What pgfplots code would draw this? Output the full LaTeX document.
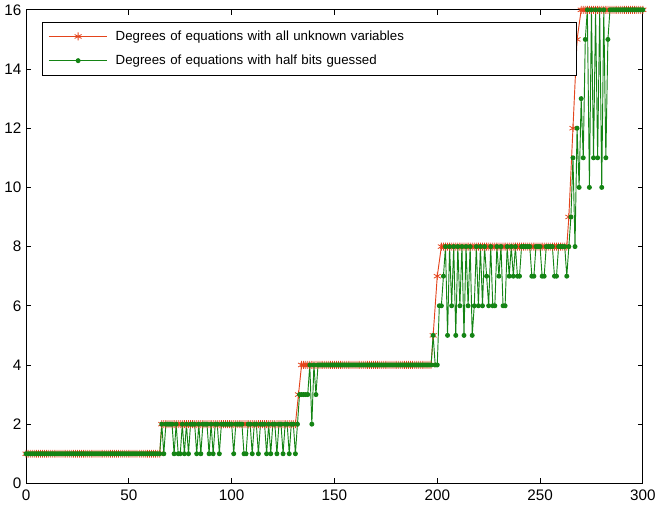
\documentclass[border=0pt]{standalone}
\usepackage{pgfplots}
\pgfplotsset{compat=1.18}
\usepackage{fontspec}
\setmainfont{Liberation Sans}
\definecolor{mred}{RGB}{228,68,28}
\definecolor{mgreen}{RGB}{20,132,20}
\begin{document}
\begin{tikzpicture}
\begin{axis}[
  scale only axis, width=465pt, height=357pt,
  xmin=0, xmax=300, ymin=0, ymax=16,
  xtick={0,50,...,300}, ytick={0,2,...,16},
  tick align=inside, major tick length=4pt,
  tick label style={font=\fontsize{11.5}{12}\selectfont, text=black},
  xticklabel style={yshift=-1.5pt},
  /pgf/number format/assume math mode=true,
  axis line style={line width=0.6pt},
  every tick/.style={black, line width=0.6pt},
  legend style={at={(0.026,0.975)}, anchor=north west, draw=black, line width=0.6pt,
    font=\fontsize{10}{11}\selectfont, inner xsep=4.5pt, inner ysep=4.5pt, row sep=5.5pt, column sep=4pt,
    nodes={text width=341pt, align=left}},
  legend cell align=left,
  legend image code/.code={\draw[mark repeat=2,mark phase=2,#1] plot coordinates {(0pt,0pt) (22pt,0pt) (44pt,0pt)};},
]
\addplot[color=mred, line width=0.7pt, mark=asterisk, mark size=3pt, mark options={line width=0.6pt}] coordinates {
(0,1)(1,1)(2,1)(3,1)(4,1)(5,1)(6,1)(7,1)(8,1)(9,1)(10,1)(11,1)(12,1)(13,1)(14,1)(15,1)(16,1)(17,1)(18,1)(19,1)
(20,1)(21,1)(22,1)(23,1)(24,1)(25,1)(26,1)(27,1)(28,1)(29,1)(30,1)(31,1)(32,1)(33,1)(34,1)(35,1)(36,1)(37,1)(38,1)(39,1)
(40,1)(41,1)(42,1)(43,1)(44,1)(45,1)(46,1)(47,1)(48,1)(49,1)(50,1)(51,1)(52,1)(53,1)(54,1)(55,1)(56,1)(57,1)(58,1)(59,1)
(60,1)(61,1)(62,1)(63,1)(64,1)(65,1)
(66,2)(67,2)(68,2)(69,2)(70,2)(71,2)(72,2)(73,2)(74,2)(75,2)(76,2)(77,2)(78,2)(79,2)
(80,2)(81,2)(82,2)(83,2)(84,2)(85,2)(86,2)(87,2)(88,2)(89,2)(90,2)(91,2)(92,2)(93,2)(94,2)(95,2)(96,2)(97,2)(98,2)(99,2)
(100,2)(101,2)(102,2)(103,2)(104,2)(105,2)(106,2)(107,2)(108,2)(109,2)(110,2)(111,2)(112,2)(113,2)(114,2)(115,2)(116,2)(117,2)(118,2)(119,2)
(120,2)(121,2)(122,2)(123,2)(124,2)(125,2)(126,2)(127,2)(128,2)(129,2)(130,2)(131,2)
(132.5,3)
(134,4)(135,4)(136,4)(137,4)(138,4)(139,4)
(140,4)(141,4)(142,4)(143,4)(144,4)(145,4)(146,4)(147,4)(148,4)(149,4)(150,4)(151,4)(152,4)(153,4)(154,4)(155,4)(156,4)(157,4)(158,4)(159,4)
(160,4)(161,4)(162,4)(163,4)(164,4)(165,4)(166,4)(167,4)(168,4)(169,4)(170,4)(171,4)(172,4)(173,4)(174,4)(175,4)(176,4)(177,4)(178,4)(179,4)
(180,4)(181,4)(182,4)(183,4)(184,4)(185,4)(186,4)(187,4)(188,4)(189,4)(190,4)(191,4)(192,4)(193,4)(194,4)(195,4)(196,4)(197,4)
(198,5)(200,7)
(202,8)(203,8)(204,8)(205,8)(206,8)(207,8)(208,8)(209,8)(210,8)(211,8)(212,8)(213,8)(214,8)(215,8)(216,8)(217,8)(218,8)(219,8)
(220,8)(221,8)(222,8)(223,8)(224,8)(225,8)(226,8)(227,8)(228,8)(229,8)(230,8)(231,8)(232,8)(233,8)(234,8)(235,8)(236,8)(237,8)(238,8)(239,8)
(240,8)(241,8)(242,8)(243,8)(244,8)(245,8)(246,8)(247,8)(248,8)(249,8)(250,8)(251,8)(252,8)(253,8)(254,8)(255,8)(256,8)(257,8)(258,8)(259,8)
(260,8)(261,8)(262,8)(263,8)
(264,9)(266,12)(268,15)
(270,16)(271,16)(272,16)(273,16)(274,16)(275,16)(276,16)(277,16)(278,16)(279,16)
(280,16)(281,16)(282,16)(283,16)(284,16)(285,16)(286,16)(287,16)(288,16)(289,16)(290,16)(291,16)(292,16)(293,16)(294,16)(295,16)(296,16)(297,16)(298,16)(299,16)(300,16)
};
\addlegendentry{Degrees of equations with all unknown variables}
\addplot[color=mgreen, line width=0.7pt, mark=*, mark size=1.5pt] coordinates {
(0,1)(1,1)(2,1)(3,1)(4,1)(5,1)(6,1)(7,1)(8,1)(9,1)(10,1)(11,1)(12,1)(13,1)(14,1)(15,1)(16,1)(17,1)(18,1)(19,1)
(20,1)(21,1)(22,1)(23,1)(24,1)(25,1)(26,1)(27,1)(28,1)(29,1)(30,1)(31,1)(32,1)(33,1)(34,1)(35,1)(36,1)(37,1)(38,1)(39,1)
(40,1)(41,1)(42,1)(43,1)(44,1)(45,1)(46,1)(47,1)(48,1)(49,1)(50,1)(51,1)(52,1)(53,1)(54,1)(55,1)(56,1)(57,1)(58,1)(59,1)
(60,1)(61,1)(62,1)(63,1)(64,1)(65,1)
(66,2)(67,1)(68,2)(69,2)(70,2)(71,2)(72,1)(73,2)(74,1)(75,1)(76,2)(77,1)(78,2)(79,1)
(80,2)(81,2)(82,2)(83,1)(84,2)(85,1)(86,2)(87,2)(88,2)(89,1)(90,2)(91,1)(92,2)(93,2)(94,1)(95,2)(96,2)(97,2)(98,2)(99,2)
(100,2)(101,1)(102,2)(103,2)(104,2)(105,2)(106,1)(107,1)(108,2)(109,2)(110,1)(111,2)(112,2)(113,1)(114,2)(115,2)(116,2)(117,1)(118,2)(119,1)
(120,2)(121,2)(122,1)(123,2)(124,2)(125,1)(126,2)(127,2)(128,1)(129,2)(130,2)(131,1)(132,2)(133,3)(134,3)(135,3)(136,3)(137,3)(138,4)(139,2)
(140,4)(141,3)(142,4)(143,4)(144,4)(145,4)(146,4)(147,4)(148,4)(149,4)(150,4)(151,4)(152,4)(153,4)(154,4)(155,4)(156,4)(157,4)(158,4)(159,4)
(160,4)(161,4)(162,4)(163,4)(164,4)(165,4)(166,4)(167,4)(168,4)(169,4)(170,4)(171,4)(172,4)(173,4)(174,4)(175,4)(176,4)(177,4)(178,4)(179,4)
(180,4)(181,4)(182,4)(183,4)(184,4)(185,4)(186,4)(187,4)(188,4)(189,4)(190,4)(191,4)(192,4)(193,4)(194,4)(195,4)(196,4)(197,4)(198,5)(199,4)
(200,4)(201,6)(202,6)(203,7)(204,8)(205,5)(206,8)(207,6)(208,8)(209,5)(210,8)(211,6)(212,8)(213,5)(214,8)(215,6)(216,8)(217,5)(218,6)(219,8)
(220,6)(221,8)(222,6)(223,8)(224,7)(225,6)(226,8)(227,6)(228,6)(229,8)(230,7)(231,8)(232,6)(233,6)(234,8)(235,7)(236,8)(237,7)(238,8)(239,7)
(240,7)(241,8)(242,8)(243,8)(244,8)(245,8)(246,7)(247,7)(248,8)(249,8)(250,8)(251,7)(252,7)(253,8)(254,8)(255,8)(256,8)(257,7)(258,7)(259,8)
(260,8)(261,8)(262,8)(263,7)(264,8)(265,9)(266,11)(267,8)(268,12)(269,10)(270,13)(271,11)(272,15)(273,16)(274,10)(275,16)(276,11)(277,16)(278,11)(279,16)
(280,10)(281,16)(282,11)(283,15)(284,16)(285,16)(286,16)(287,16)(288,16)(289,16)(290,16)(291,16)(292,16)(293,16)(294,16)(295,16)(296,16)(297,16)(298,16)(299,16)(300,16)
};
\addlegendentry{Degrees of equations with half bits guessed}
\end{axis}
\end{tikzpicture}
\end{document}
